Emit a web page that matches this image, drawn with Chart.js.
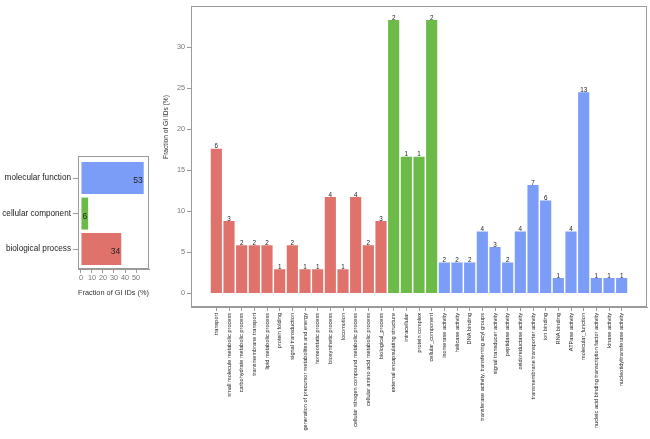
<!DOCTYPE html>
<html>
<head>
<meta charset="utf-8">
<script src="https://cdn.jsdelivr.net/npm/chart.js@4"></script>
<style>
  body { margin: 0; background: #fff; }
  #wrap { position: relative; width: 650px; height: 439px; overflow: hidden; }
  #summary { position: absolute; left: 0; top: 140px; }
  #detail { position: absolute; left: 150px; top: 0; }
</style>
</head>
<body>
<div id="wrap">
  <canvas id="summary" width="160" height="165"></canvas>
  <canvas id="detail" width="500" height="439"></canvas>
</div>
<script>
// summary panel (left)
const summaryLabels = ['molecular function', 'cellular component', 'biological process'];
const summaryValues = [57.0, 6.5, 36.6];
const summaryCounts = [53, 6, 34];
const summaryTicks = [0, 10, 20, 30, 40, 50];

// detail panel (right)
const detailLabels = [
  'transport', 'small molecule metabolic process', 'carbohydrate metabolic process',
  'transmembrane transport', 'lipid metabolic process', 'protein folding',
  'signal transduction', 'generation of precursor metabolites and energy',
  'homeostatic process', 'biosynthetic process', 'locomotion',
  'cellular nitrogen compound metabolic process', 'cellular amino acid metabolic process',
  'biological_process',
  'external encapsulating structure', 'intracellular', 'protein complex', 'cellular_component',
  'isomerase activity', 'helicase activity', 'DNA binding',
  'transferase activity, transferring acyl groups', 'signal transducer activity',
  'peptidase activity', 'oxidoreductase activity', 'transmembrane transporter activity',
  'ion binding', 'RNA binding', 'ATPase activity', 'molecular_function',
  'nucleic acid binding transcription factor activity', 'kinase activity',
  'nucleotidyltransferase activity'
];
const detailGroups = [
  'bp', 'bp', 'bp', 'bp', 'bp', 'bp', 'bp', 'bp', 'bp', 'bp', 'bp', 'bp', 'bp', 'bp',
  'cc', 'cc', 'cc', 'cc',
  'mf', 'mf', 'mf', 'mf', 'mf', 'mf', 'mf', 'mf', 'mf', 'mf', 'mf', 'mf', 'mf', 'mf', 'mf'
];
const detailValues = [
  17.65, 8.82, 5.88, 5.88, 5.88, 2.94, 5.88, 2.94, 2.94, 11.76, 2.94, 11.76, 5.88, 8.82,
  33.33, 16.67, 16.67, 33.33,
  3.77, 3.77, 3.77, 7.55, 5.66, 3.77, 7.55, 13.21, 11.32, 1.89, 7.55, 24.53, 1.89, 1.89, 1.89
];
const detailCounts = [
  6, 3, 2, 2, 2, 1, 2, 1, 1, 4, 1, 4, 2, 3,
  2, 1, 1, 2,
  2, 2, 2, 4, 3, 2, 4, 7, 6, 1, 4, 13, 1, 1, 1
];
const detailTicks = [0, 5, 10, 15, 20, 25, 30];

const groupColors = { bp: '#DF736B', cc: '#6CBA48', mf: '#7B9DF8' };
const FONT = 'Liberation Sans, Arial, Helvetica, sans-serif';
const frameColor = '#9a9a9a';

// box around the plotting area
const framePlugin = {
  id: 'frame',
  afterDraw(chart) {
    const a = chart.chartArea;
    const ctx = chart.ctx;
    ctx.save();
    ctx.strokeStyle = frameColor;
    ctx.lineWidth = 1;
    ctx.strokeRect(Math.round(a.left) + 0.5, Math.round(a.top) + 0.5,
      Math.round(a.right - a.left) - 1, Math.round(a.bottom - a.top) - 1);
    ctx.restore();
  }
};

// count labels
const countPlugin = {
  id: 'counts',
  afterDatasetsDraw(chart, args, opts) {
    const ctx = chart.ctx;
    const meta = chart.getDatasetMeta(0);
    ctx.save();
    ctx.fillStyle = '#222';
    ctx.font = opts.size + 'px ' + FONT;
    meta.data.forEach((bar, i) => {
      const n = opts.counts[i];
      if (opts.horizontal) {
        ctx.textAlign = 'right';
        ctx.textBaseline = 'middle';
        ctx.fillText(n, bar.x - 1, bar.y + 3);
      } else {
        ctx.textAlign = 'center';
        ctx.textBaseline = 'bottom';
        ctx.fillText(n, bar.x, bar.y + 1);
      }
    });
    ctx.restore();
  }
};

// rotated y title of the detail panel
const yTitlePlugin = {
  id: 'ytitle',
  afterDraw(chart) {
    const ctx = chart.ctx;
    ctx.save();
    ctx.translate(16, 127);
    ctx.rotate(-Math.PI / 2);
    ctx.fillStyle = '#333';
    ctx.font = '6.6px ' + FONT;
    ctx.textAlign = 'center';
    ctx.textBaseline = 'middle';
    ctx.fillText('Fraction of GI IDs (%)', 0, 0);
    ctx.restore();
  }
};

new Chart(document.getElementById('summary'), {
  type: 'bar',
  data: {
    datasets: [{
      data: summaryValues.map((v, i) => ({ x: v, y: i })),
      backgroundColor: [groupColors.mf, groupColors.cc, groupColors.bp],
      borderWidth: 0,
      categoryPercentage: 1,
      barPercentage: 0.9
    }]
  },
  options: {
    indexAxis: 'y',
    responsive: false,
    animation: false,
    layout: { padding: { top: 16, right: 11, left: 0, bottom: 0 } },
    plugins: {
      legend: { display: false },
      tooltip: { enabled: false },
      counts: { counts: summaryCounts, size: 8.5, horizontal: true }
    },
    scales: {
      x: {
        min: -2.7,
        max: 61.8,
        afterBuildTicks: s => { s.ticks = summaryTicks.map(v => ({ value: v })); },
        afterFit: s => { s.height = 36; },
        grid: { drawOnChartArea: false, tickLength: 4, color: frameColor },
        border: { color: frameColor },
        ticks: { color: '#777', font: { family: FONT, size: 7.3 }, padding: 1, maxRotation: 0 },
        title: {
          display: true, text: 'Fraction of GI IDs (%)', color: '#333',
          font: { family: FONT, size: 7.5 }, padding: { top: 2, bottom: 8 }
        }
      },
      y: {
        type: 'linear',
        reverse: true,
        offset: false,
        min: -0.62,
        max: 2.56,
        afterBuildTicks: s => { s.ticks = summaryLabels.map((c, i) => ({ value: i })); },
        afterFit: s => { s.width = 78; },
        grid: { drawOnChartArea: false, offset: false, tickLength: 5, color: frameColor },
        border: { color: frameColor },
        ticks: {
          color: '#222', font: { family: FONT, size: 8.2 }, padding: 2,
          callback: v => summaryLabels[v]
        }
      }
    }
  },
  plugins: [countPlugin, framePlugin]
});

new Chart(document.getElementById('detail'), {
  type: 'bar',
  data: {
    datasets: [{
      data: detailValues.map((v, i) => ({ x: i, y: v })),
      backgroundColor: detailGroups.map(g => groupColors[g]),
      borderWidth: 0,
      categoryPercentage: 1,
      barPercentage: 0.88
    }]
  },
  options: {
    responsive: false,
    animation: false,
    layout: { padding: { top: 2, right: 3, left: 0, bottom: 0 } },
    plugins: {
      legend: { display: false },
      tooltip: { enabled: false },
      counts: { counts: detailCounts, size: 6.3, horizontal: false }
    },
    scales: {
      x: {
        type: 'linear',
        offset: false,
        min: -2,
        max: 34,
        afterBuildTicks: s => { s.ticks = detailLabels.map((c, i) => ({ value: i })); },
        afterFit: s => { s.height = 132; },
        grid: { drawOnChartArea: false, offset: false, tickLength: 4, color: frameColor },
        border: { color: frameColor },
        ticks: {
          autoSkip: false, minRotation: 90, maxRotation: 90, padding: 2,
          color: '#222', font: { family: FONT, size: 5.6 },
          callback: v => detailLabels[v]
        }
      },
      y: {
        min: -1.65,
        max: 35,
        afterBuildTicks: s => { s.ticks = detailTicks.map(v => ({ value: v })); },
        afterFit: s => { s.width = 41; },
        grid: { drawOnChartArea: false, tickLength: 4, color: frameColor },
        border: { color: frameColor },
        ticks: { color: '#777', font: { family: FONT, size: 7.3 }, padding: 2 }
      }
    }
  },
  plugins: [countPlugin, framePlugin, yTitlePlugin]
});
</script>
</body>
</html>
